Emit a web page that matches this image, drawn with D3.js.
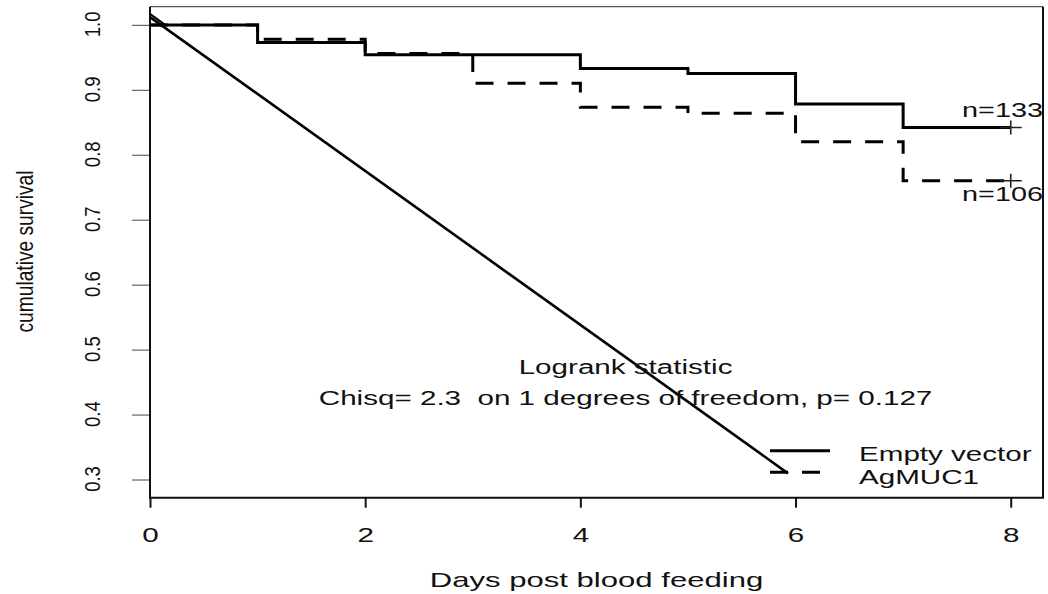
<!DOCTYPE html>
<html>
<head>
<meta charset="utf-8">
<script src="https://cdn.jsdelivr.net/npm/d3@7"></script>
<style>
  html, body { margin: 0; padding: 0; background: #fff; }
  svg { display: block; font-family: "Liberation Sans", Arial, sans-serif; }
  text { white-space: pre; }
</style>
</head>
<body>
<svg id="chart" width="1048" height="594"></svg>
<script>
// values
const days = [0, 1, 2, 3, 4, 5, 6, 7, 8]
const emptyVector = [1.0, 0.973, 0.954, 0.954, 0.933, 0.925, 0.878, 0.842, 0.842]
const agMUC1 = [1.0, 0.978, 0.956, 0.910, 0.873, 0.864, 0.820, 0.760, 0.760]
const xTicks = [0, 2, 4, 6, 8]
const yTicks = [0.3, 0.4, 0.5, 0.6, 0.7, 0.8, 0.9, 1.0]
const seriesNames = ['Empty vector', 'AgMUC1']
const atRisk = ['n=133', 'n=106']
// stray straight line that shows up in the original plot
const strayDays = [0, 5.93]
const straySurv = [1.012, 0.3095]
const strayStartDays = [0, 0.14]
const strayStartSurv = [1.017, 1.0]
const logrankLines = ['Logrank statistic', 'Chisq= 2.3  on 1 degrees of freedom, p= 0.127']

const svg = d3.select('#chart')
const box = {left: 150, right: 1043, top: 6.7, bottom: 497.7}
const sx = 1.48  // the picture is stretched sideways

const x = d3.scaleLinear().domain([0, 8.3]).range([box.left, box.right])
const y = d3.scaleLinear().domain([0.272, 1.028]).range([box.bottom, box.top])

function hText(g, px, py, str, anchor, size) {
  return g.append('text')
    .attr('transform', `translate(${px},${py}) scale(${sx},1)`)
    .attr('text-anchor', anchor)
    .attr('font-size', size)
    .attr('fill', '#111')
    .text(str)
}

// axes
const xAxis = svg.append('g')
  .attr('transform', `translate(0,${box.bottom})`)
  .call(d3.axisBottom(x).tickValues(xTicks).tickSize(10).tickFormat(d3.format('d')))
xAxis.select('.domain').remove()
xAxis.selectAll('.tick line').attr('stroke', '#111').attr('stroke-width', 2)
xAxis.selectAll('.tick text')
  .attr('y', 0).attr('dy', 0)
  .attr('transform', `translate(0,44) scale(${sx},1)`)
  .attr('font-size', 20)
  .attr('fill', '#111')

const yAxis = svg.append('g')
  .attr('transform', `translate(${box.left},0)`)
  .call(d3.axisLeft(y).tickValues(yTicks).tickSize(18).tickFormat(d3.format('.1f')))
yAxis.select('.domain').remove()
yAxis.selectAll('.tick line').attr('stroke', '#666').attr('stroke-width', 1.2)
yAxis.selectAll('.tick text')
  .attr('x', 0).attr('y', 0).attr('dy', 0)
  .attr('transform', 'translate(-50,-1) rotate(-90) scale(0.86,1)')
  .attr('text-anchor', 'middle')
  .attr('font-size', 21.5)
  .attr('fill', '#111')
yAxis.attr('font-family', null)
xAxis.attr('font-family', null)

// frame
svg.append('line').attr('x1', box.left).attr('x2', box.right).attr('y1', box.top).attr('y2', box.top)
  .attr('stroke', '#555').attr('stroke-width', 1.2)
svg.append('path')
  .attr('d', `M${box.right},${box.top}V${box.bottom}H${box.left}V${box.top}`)
  .attr('fill', 'none').attr('stroke', '#111').attr('stroke-width', 2)

// labels
hText(svg, (box.left + box.right) / 2, 587, 'Days post blood feeding', 'middle', 21)
svg.append('text')
  .attr('transform', 'translate(33,251.5) rotate(-90) scale(0.8,1)')
  .attr('text-anchor', 'middle')
  .attr('font-size', 24)
  .attr('fill', '#111')
  .text('cumulative survival')

// curves
const line = d3.line().x(d => x(d[0])).y(d => y(d[1]))
const stepLine = d3.line().curve(d3.curveStepAfter).x(d => x(d[0])).y(d => y(d[1]))

svg.append('path')
  .datum(d3.zip(strayDays, straySurv))
  .attr('d', line).attr('fill', 'none').attr('stroke', '#000').attr('stroke-width', 2.6)
svg.append('path')
  .datum(d3.zip(strayStartDays, strayStartSurv))
  .attr('d', line).attr('fill', 'none').attr('stroke', '#000').attr('stroke-width', 2)

const series = [
  {name: seriesNames[0], values: emptyVector, dash: null},
  {name: seriesNames[1], values: agMUC1, dash: '18,14'}
]

series.forEach((s, i) => {
  svg.append('path')
    .datum(d3.zip(days, s.values))
    .attr('d', stepLine)
    .attr('fill', 'none')
    .attr('stroke', '#000')
    .attr('stroke-width', 3)
    .attr('stroke-dasharray', s.dash)

  // censor mark at the last day
  const cx = x(days[days.length - 1])
  const cy = y(s.values[s.values.length - 1])
  svg.append('path')
    .attr('d', `M${cx - 11},${cy}H${cx + 11}M${cx},${cy - 7}V${cy + 7}`)
    .attr('stroke', '#222').attr('stroke-width', 1.6).attr('fill', 'none')

  hText(svg, 962, i === 0 ? cy - 11 : cy + 20, atRisk[i], 'start', 19.5)
})

// logrank text
hText(svg, x(4.42), y(0.4625), logrankLines[0], 'middle', 20)
hText(svg, x(4.42), y(0.4148), logrankLines[1], 'middle', 20)

// legend
const legend = svg.append('g')
series.forEach((s, i) => {
  const ly = 450.7 + i * 21.6
  legend.append('line')
    .attr('x1', 770).attr('x2', 830).attr('y1', ly).attr('y2', ly)
    .attr('stroke', '#000').attr('stroke-width', 3)
    .attr('stroke-dasharray', s.dash)
  hText(legend, 859, ly + 10.3 + i * 1, s.name, 'start', 20)
})
</script>
</body>
</html>
